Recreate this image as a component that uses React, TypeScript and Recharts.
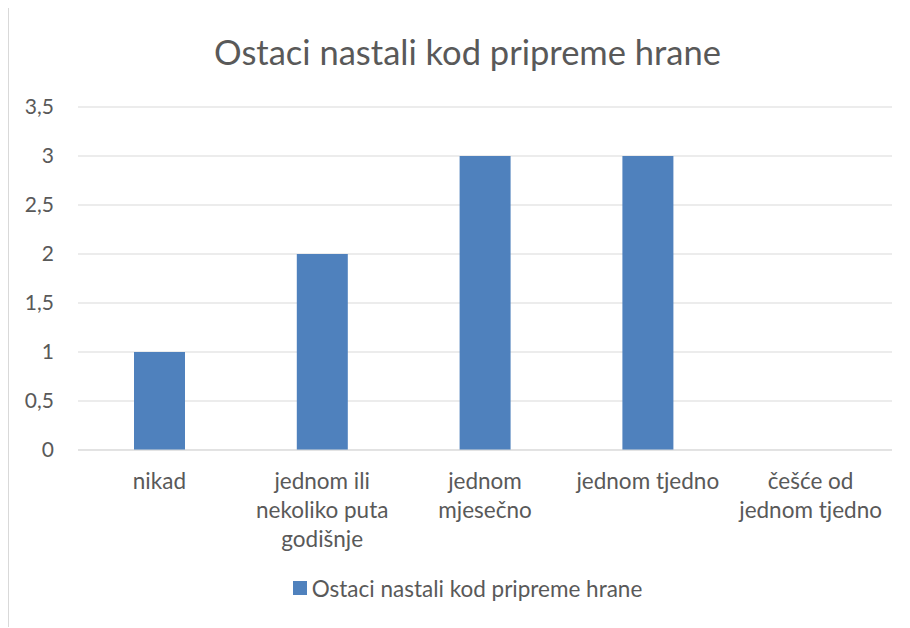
import React from 'react';
import { BarChart, Bar, XAxis, YAxis, CartesianGrid, Legend } from 'recharts';

const categories = [
  'nikad',
  'jednom ili\nnekoliko puta\ngodišnje',
  'jednom\nmjesečno',
  'jednom tjedno',
  'češće od\njednom tjedno',
];
const values = [1, 2, 3, 3, 0];
const yTicks = [0, 0.5, 1, 1.5, 2, 2.5, 3, 3.5];
const seriesName = 'Ostaci nastali kod pripreme hrane';

const data = categories.map((c, i) => ({ name: c, value: values[i] }));

const FONT = 'Lato, "Open Sans", sans-serif';
const TEXT = '#595959';

const CategoryTick = (props: any) => {
  const { x, y, payload } = props;
  const lines = String(payload.value).split('\n');
  return (
    <text x={x} y={y} textAnchor="middle" fill={TEXT} fontSize={22.5} fontFamily={FONT}>
      {lines.map((l, i) => (
        <tspan key={i} x={x} dy={i === 0 ? 37 : 29}>
          {l}
        </tspan>
      ))}
    </text>
  );
};

const LegendContent = () => (
  <div style={{ display: 'flex', justifyContent: 'center', alignItems: 'center', height: 24, paddingLeft: 34, fontFamily: FONT, fontSize: 22.5, color: TEXT }}>
    <span style={{ width: 14, height: 14, background: '#4F81BD', display: 'inline-block', marginRight: 5 }} />
    <span>{seriesName}</span>
  </div>
);

const App: React.FC = () => {
  return (
    <div style={{ position: 'relative', width: 901, height: 619, borderLeft: '1px solid #d9d9d9', borderTop: '1px solid #d9d9d9', background: '#fff', marginTop: -1 }}>
      <style>{'html,body{overflow:hidden}'}</style>
      <div style={{ position: 'absolute', top: 23, left: 8, width: 901, textAlign: 'center', fontFamily: FONT, fontSize: 34.5, color: TEXT }}>
        {seriesName}
      </div>
      <BarChart width={901} height={619} data={data} margin={{ top: 99, right: 18, bottom: 27, left: 0 }}>
        <CartesianGrid vertical={false} stroke="#d9d9d9" />
        <XAxis
          dataKey="name"
          height={126}
          axisLine={{ stroke: '#d9d9d9' }}
          tickLine={false}
          tickSize={0}
          interval={0}
          tick={<CategoryTick />}
        />
        <YAxis
          width={69}
          domain={[0, 3.5]}
          ticks={yTicks}
          axisLine={false}
          tickLine={false}
          tickSize={0}
          tickMargin={24}
          tickFormatter={(v: number) => String(v).replace('.', ',')}
          tick={{ fill: TEXT, fontSize: 21, fontFamily: FONT }}
        />
        <Bar dataKey="value" name={seriesName} fill="#4F81BD" barSize={51} isAnimationActive={false} />
        <Legend verticalAlign="bottom" content={<LegendContent />} />
      </BarChart>
    </div>
  );
};

export default App;
